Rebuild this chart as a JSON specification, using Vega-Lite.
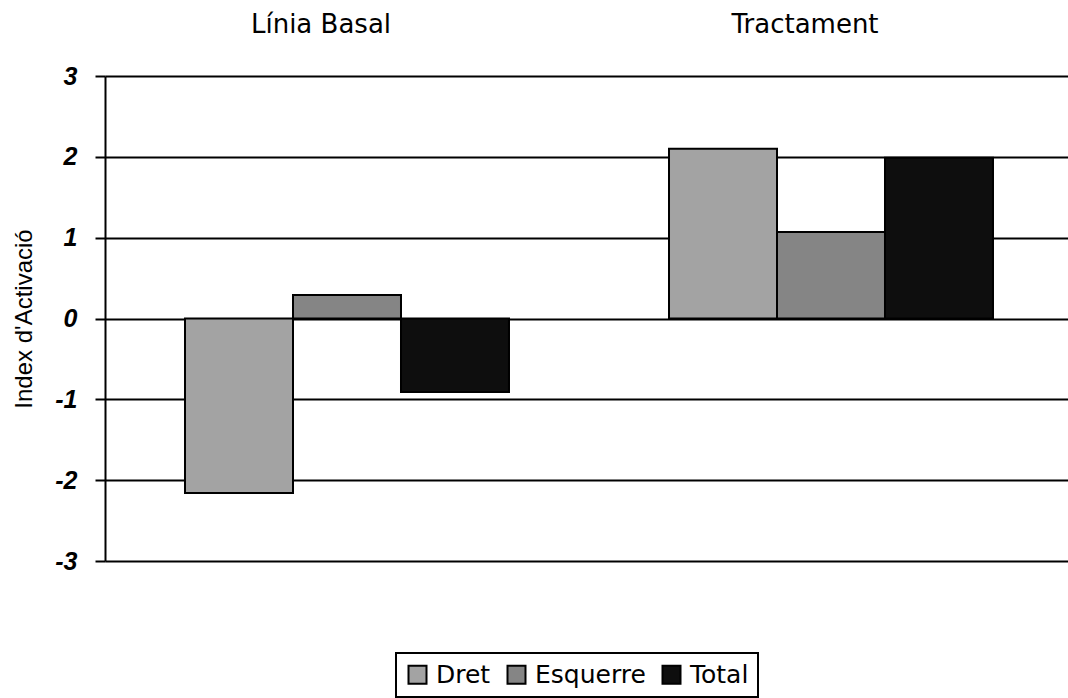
{
  "$schema": "https://vega.github.io/schema/vega-lite/v6.json",
  "autosize": "none",
  "width": 968,
  "height": 485,
  "padding": {"left": 105, "top": 76, "right": 0, "bottom": 137},
  "background": "white",
  "data": {
    "values": [
      {"grup": "Línia Basal", "serie": "Dret", "valor": -2.16},
      {"grup": "Línia Basal", "serie": "Esquerre", "valor": 0.29},
      {"grup": "Línia Basal", "serie": "Total", "valor": -0.91},
      {"grup": "Tractament", "serie": "Dret", "valor": 2.1},
      {"grup": "Tractament", "serie": "Esquerre", "valor": 1.07},
      {"grup": "Tractament", "serie": "Total", "valor": 1.99}
    ]
  },
  "config": {
    "view": {"stroke": null},
    "axis": {"gridColor": "black", "gridWidth": 2, "gridOpacity": 1},
    "legend": {"strokeWidth": 2}
  },
  "mark": {"type": "bar", "stroke": "black", "strokeWidth": 2, "strokeOpacity": 1},
  "encoding": {
    "x": {
      "field": "grup",
      "type": "nominal",
      "sort": ["Línia Basal", "Tractament"],
      "scale": {"paddingInner": 0.3306, "paddingOuter": 0.1653},
      "axis": {
        "orient": "top",
        "title": null,
        "domain": false,
        "ticks": false,
        "labelAngle": 0,
        "labelFont": "DejaVu Sans",
        "labelFontSize": 26,
        "labelColor": "black",
        "labelPadding": 39,
        "labelOffset": -26
      }
    },
    "xOffset": {"field": "serie", "type": "nominal", "sort": ["Dret", "Esquerre", "Total"], "scale": {"paddingInner": 0, "paddingOuter": 0}},
    "y": {
      "field": "valor",
      "type": "quantitative",
      "scale": {"domain": [-3, 3], "nice": false, "zero": false},
      "axis": {
        "title": "Index d'Activació",
        "titleFont": "Liberation Sans",
        "titleFontSize": 24,
        "titleFontWeight": "normal",
        "titleColor": "black",
        "titlePadding": 18,
        "values": [-3, -2, -1, 0, 1, 2, 3],
        "labelExpr": "toString(datum.value)",
        "grid": true,
        "domain": true,
        "domainColor": "black",
        "domainWidth": 2,
        "ticks": true,
        "tickSize": 10,
        "tickColor": "black",
        "tickWidth": 2,
        "labelFont": "Liberation Sans",
        "labelFontSize": 25,
        "labelFontWeight": "bold",
        "labelFontStyle": "italic",
        "labelColor": "black",
        "labelPadding": 18
      }
    },
    "fill": {
      "field": "serie",
      "type": "nominal",
      "sort": ["Dret", "Esquerre", "Total"],
      "scale": {"domain": ["Dret", "Esquerre", "Total"], "range": ["#a3a3a3", "#858585", "#0e0e0e"]},
      "legend": {
        "title": null,
        "orient": "none",
        "legendX": 291,
        "legendY": 577,
        "direction": "horizontal",
        "strokeColor": "black",
        "padding": 9,
        "symbolType": "square",
        "symbolSize": 324,
        "symbolStrokeColor": "black",
        "symbolStrokeWidth": 2,
        "symbolOpacity": 1,
        "labelFont": "DejaVu Sans",
        "labelFontSize": 25,
        "labelColor": "black",
        "labelOffset": 6,
        "columnPadding": 12
      }
    }
  }
}
